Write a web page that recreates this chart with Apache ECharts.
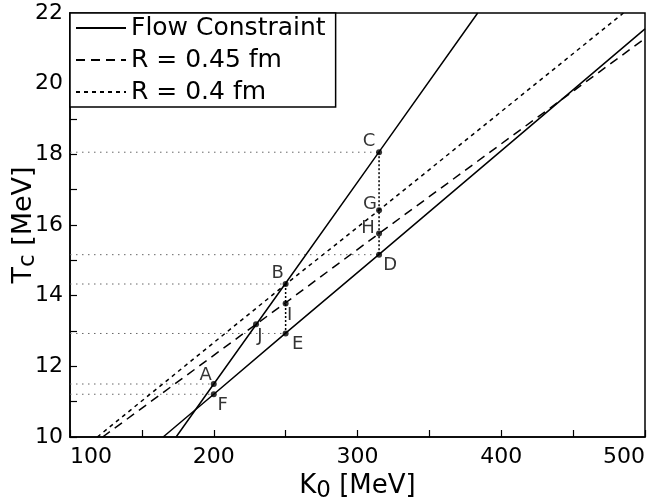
<!DOCTYPE html>
<html>
<head>
<meta charset="utf-8">
<script src="https://cdn.jsdelivr.net/npm/echarts@6/dist/echarts.min.js"></script>
<style>
  html, body { margin: 0; padding: 0; background: #fff; }
  #chart { width: 649px; height: 501px; }
</style>
</head>
<body>
<div id="chart"></div>
<script>
// axis ranges / ticks
var xRange = [100, 500];
var yRange = [10, 22];

// flow constraint, two branches  [K0, Tc]
var flowSteep = [[173.8, 10], [200, 11.5], [250, 14.35], [315, 18.07], [383.6, 22]];
var flowShallow = [[164.8, 10], [200, 11.21], [250, 12.94], [315, 15.17], [500, 21.55]];
// radius lines
var r045 = [[122.7, 10], [229.4, 13.19], [250, 13.8], [315, 15.76], [500, 21.28]];
var r040 = [[119, 10], [250, 14.32], [315, 16.42], [485, 22]];

// marked points
var pointNames = ['A', 'B', 'C', 'D', 'E', 'F', 'G', 'H', 'I', 'J'];
var pointK = [200, 250, 315, 315, 250, 200, 315, 315, 250, 229.4];
var pointT = [11.5, 14.33, 18.06, 15.16, 12.93, 11.21, 16.42, 15.76, 13.78, 13.19];

// guide lines: horizontal to the axis, vertical between two points
var guideH = ['C', 'D', 'B', 'E', 'A', 'F'];
var guideV = [['C', 'D'], ['B', 'E']];

// label placement (px, relative to dot)
var labelOffset = {
  A: [-8, -9], B: [-8, -11], C: [-10, -11], D: [11, 11], E: [12, 11],
  F: [9, 11], G: [-9, -6], H: [-11, -5], I: [4, 12], J: [4, 12]
};

var FONT = 'DejaVu Sans';

function pt(n) {
  var i = pointNames.indexOf(n);
  return [pointK[i], pointT[i]];
}

var series = [];

// gray dotted guides to the T axis
guideH.forEach(function (n) {
  var p = pt(n);
  series.push({
    type: 'line', symbol: 'none', silent: true, z: 1,
    data: [[xRange[0], p[1]], p],
    lineStyle: { color: '#666', width: 1, type: [1.5, 4.5] }
  });
});
// black dotted verticals
guideV.forEach(function (pair) {
  series.push({
    type: 'line', symbol: 'none', silent: true, z: 1,
    data: [pt(pair[0]), pt(pair[1])],
    lineStyle: { color: '#000', width: 1.5, type: [2, 2] }
  });
});

series.push(
  { name: 'Flow Constraint', type: 'line', symbol: 'none', data: flowSteep, z: 2,
    itemStyle: { color: '#000' }, lineStyle: { color: '#000', width: 1.5, type: 'solid' } },
  { name: 'Flow Constraint', type: 'line', symbol: 'none', data: flowShallow, z: 2,
    itemStyle: { color: '#000' }, lineStyle: { color: '#000', width: 1.5, type: 'solid' } },
  { name: 'R = 0.45 fm', type: 'line', symbol: 'none', data: r045, z: 2,
    itemStyle: { color: '#000' }, lineStyle: { color: '#000', width: 1.5, type: [9, 6] } },
  { name: 'R = 0.4 fm', type: 'line', symbol: 'none', data: r040, z: 2,
    itemStyle: { color: '#000' }, lineStyle: { color: '#000', width: 1.5, type: [4, 4] } }
);

series.push({
  type: 'scatter', symbol: 'circle', symbolSize: 6, z: 5,
  itemStyle: { color: '#000' },
  data: pointNames.map(function (n, i) {
    return {
      value: [pointK[i], pointT[i]],
      label: { offset: labelOffset[n] }
    };
  }),
  label: {
    show: true, position: 'inside',
    formatter: function (p) { return pointNames[p.dataIndex]; },
    color: '#000', fontFamily: FONT, fontSize: 18
  }
});

var chart = echarts.init(document.getElementById('chart'));
chart.setOption({
  animation: false,
  backgroundColor: '#fff',
  grid: {
    left: 70, right: 4, top: 13, bottom: 64, outerBoundsMode: 'none',
    show: true, borderColor: '#000', borderWidth: 1.5
  },
  legend: {
    data: ['Flow Constraint', 'R = 0.45 fm', 'R = 0.4 fm'],
    orient: 'vertical', left: 70, top: 13,
    padding: [0, 10, 0, 5],
    itemWidth: 50, itemHeight: 30, itemGap: 2,
    itemStyle: { color: 'rgba(0,0,0,0)', borderWidth: 0, opacity: 0 },
    backgroundColor: '#fff', borderColor: '#000', borderWidth: 1.5,
    textStyle: { fontFamily: FONT, fontSize: 25, color: '#000', lineHeight: 30 }
  },
  xAxis: {
    type: 'value', min: xRange[0], max: xRange[1], interval: 50,
    name: '{a|K}{b|0}{a| [MeV]}', nameLocation: 'middle', nameGap: 30,
    nameTextStyle: {
      rich: {
        a: { fontFamily: FONT, fontSize: 26, color: '#000' },
        b: { fontFamily: FONT, fontSize: 23, color: '#000', padding: [10, 0, 0, 0] }
      }
    },
    axisLine: { lineStyle: { color: '#000', width: 1.5 } },
    axisTick: { inside: true, length: 7, lineStyle: { color: '#000', width: 1.2 } },
    axisLabel: {
      margin: 9, fontFamily: FONT, fontSize: 22, color: '#000',
      alignMinLabel: 'left', alignMaxLabel: 'right',
      formatter: function (v) { return v % 100 === 0 ? String(v) : ''; }
    },
    splitLine: { show: false }
  },
  yAxis: {
    type: 'value', min: yRange[0], max: yRange[1], interval: 1,
    name: '{a|T}{b|c}{a| [MeV]}', nameLocation: 'middle', nameGap: 30, nameRotate: 90,
    nameMoveOverlap: false,
    nameTextStyle: {
      rich: {
        a: { fontFamily: FONT, fontSize: 27, color: '#000' },
        b: { fontFamily: FONT, fontSize: 23, color: '#000', padding: [10, 0, 0, 0] }
      }
    },
    axisLine: { lineStyle: { color: '#000', width: 1.5 } },
    axisTick: { inside: true, length: 7, lineStyle: { color: '#000', width: 1.2 } },
    axisLabel: {
      margin: 7, fontFamily: FONT, fontSize: 22, color: '#000',
      formatter: function (v) { return v % 2 === 0 ? String(v) : ''; }
    },
    splitLine: { show: false }
  },
  series: series
});
</script>
</body>
</html>
